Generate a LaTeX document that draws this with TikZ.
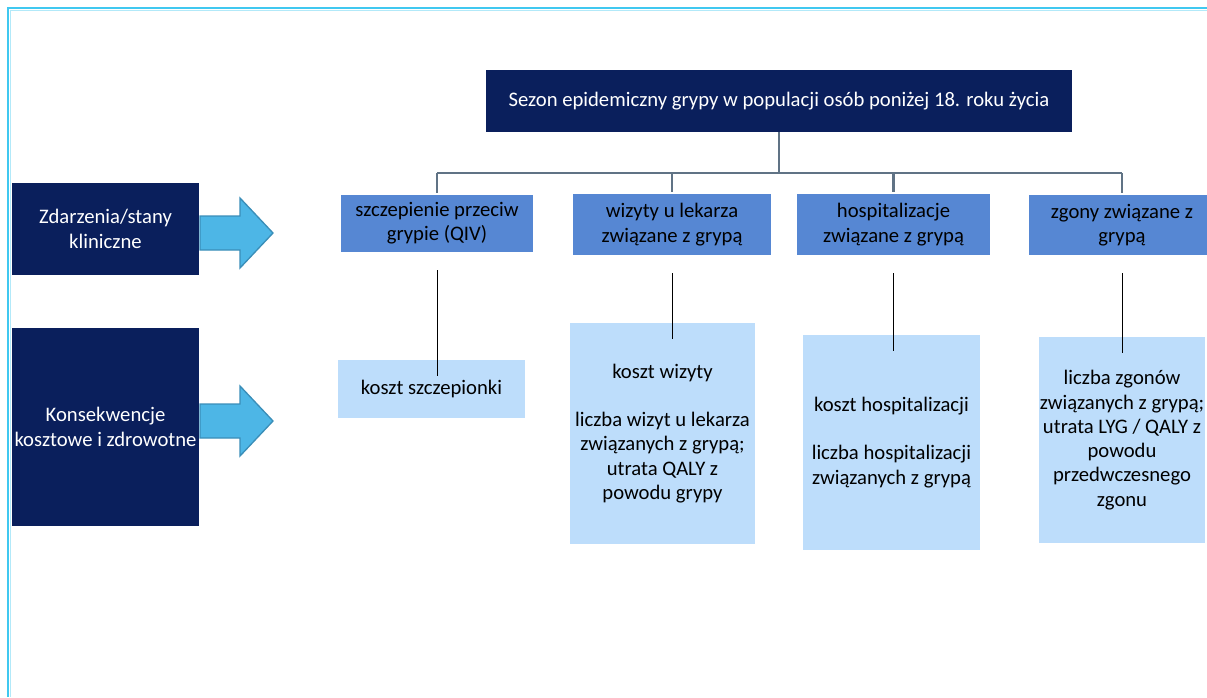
\documentclass[tikz,border=0pt]{standalone}
\usepackage{fontspec}
\setmainfont{Carlito}
\usetikzlibrary{calc}
\definecolor{navy}{RGB}{10,31,92}
\definecolor{midblue}{RGB}{86,135,211}
\definecolor{paleblue}{RGB}{189,221,251}
\definecolor{arrowblue}{RGB}{77,182,230}
\definecolor{arrowline}{RGB}{58,142,184}
\definecolor{treegray}{RGB}{96,115,133}
\definecolor{framecyan}{RGB}{64,200,240}
\tikzset{
  base/.style={rectangle, inner sep=0pt, align=center, font=\fontsize{15.5}{18.2}\selectfont},
  headbox/.style={base, fill=navy, text=white},
  eventbox/.style={base, fill=midblue, text=black},
  costbox/.style={base, fill=paleblue, text=black},
  tree/.style={draw=treegray, line width=2pt},
  link/.style={draw=black, line width=0.7pt},
  bigarrow/.style={fill=arrowblue, draw=arrowline, line width=1pt}
}
\begin{document}
\begin{tikzpicture}[x=0.75pt, y=-0.75pt]
\useasboundingbox (0,0) rectangle (1207,697);
\draw[framecyan, line width=2pt] (8,697) -- (8,8) -- (1207,8);
\draw[framecyan!40, line width=0.8pt] (10.5,697) -- (10.5,10.5) -- (1207,10.5);

\node[headbox, minimum width=439.5pt, minimum height=46.5pt] (top) at (779,101) {Sezon epidemiczny grypy w populacji osób poniżej 18. roku życia};

\node[headbox, minimum width=140pt, minimum height=69pt] (events) at (105.5,229) {Zdarzenia/stany\\kliniczne};
\node[headbox, minimum width=140pt, minimum height=148.5pt] (conseq) at (105.5,427) {Konsekwencje\\kosztowe i zdrowotne};

\foreach \yc in {233,421}
  \draw[bigarrow] (200,\yc-17) -- (240,\yc-17) -- (240,\yc-35) -- (273,\yc) -- (240,\yc+35) -- (240,\yc+17) -- (200,\yc+17) -- cycle;

\node[eventbox, minimum width=144pt, minimum height=42.75pt] (vacc) at (437,223.5) {szczepienie przeciw\\grypie (QIV)};
\node[eventbox, minimum width=148.5pt, minimum height=45.75pt] (visit) at (672,224.5) {wizyty u lekarza\\związane z grypą};
\node[eventbox, minimum width=144.75pt, minimum height=45.75pt] (hosp) at (893.5,224.5) {hospitalizacje\\związane z grypą};
\node[eventbox, minimum width=139.5pt, minimum height=45pt] (death) at (1122,225) {zgony związane z\\grypą};

\node[costbox, minimum width=140.25pt, minimum height=43.5pt] (cvacc) at (431.5,389) {koszt szczepionki};
\node[costbox, minimum width=138.75pt, minimum height=165.75pt] (cvisit) at (662.5,433.5) {koszt wizyty\\[18pt]liczba wizyt u lekarza\\związanych z grypą;\\utrata QALY z\\powodu grypy};
\node[costbox, minimum width=132.75pt, minimum height=161.25pt] (chosp) at (891.5,442.5) {koszt hospitalizacji\\[18pt]liczba hospitalizacji\\związanych z grypą};
\node[costbox, minimum width=124.5pt, minimum height=154.5pt] (cdeath) at (1122,440) {liczba zgonów\\związanych z grypą;\\utrata LYG / QALY z\\powodu\\przedwczesnego\\zgonu};

% tree under the season box
\coordinate (bus) at (0,173);
\draw[tree] (top.south) -- (top.south |- bus);
\draw[tree] (vacc.north |- bus) -- (death.north |- bus);
\foreach \n in {vacc,visit,hosp,death}
  \draw[tree] (\n.north |- bus) -- ($(\n.north)+(0,-2)$);

\foreach \a/\b in {vacc/cvacc,visit/cvisit,hosp/chosp,death/cdeath}
  \draw[link] ($(\a.south)+(0,18)$) -- ($(\a.south |- \b.north)+(0,16)$);
\end{tikzpicture}
\end{document}
